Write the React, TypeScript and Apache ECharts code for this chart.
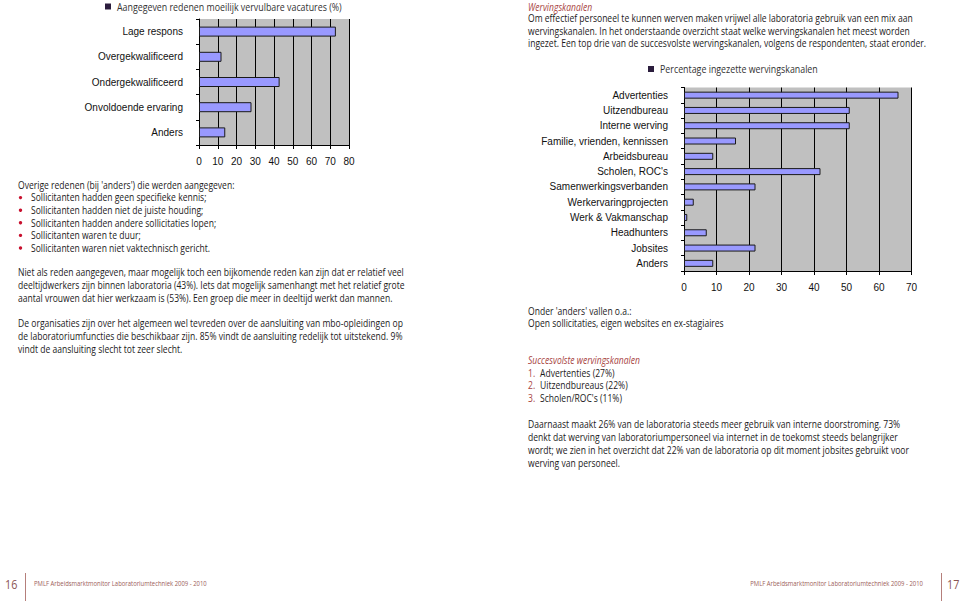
import React, { useEffect, useRef } from "react";
import * as echarts from "echarts";

// ---------- Data ----------
const reasonCategories = [
  "Lage respons",
  "Overgekwalificeerd",
  "Ondergekwalificeerd",
  "Onvoldoende ervaring",
  "Anders",
];
const reasonValues = [73, 12, 43, 28, 14];
const reasonLegend = "Aangegeven redenen moeilijk vervulbare vacatures (%)";

const channelCategories = [
  "Advertenties",
  "Uitzendbureau",
  "Interne werving",
  "Familie, vrienden, kennissen",
  "Arbeidsbureau",
  "Scholen, ROC's",
  "Samenwerkingsverbanden",
  "Werkervaringprojecten",
  "Werk & Vakmanschap",
  "Headhunters",
  "Jobsites",
  "Anders",
];
const channelValues = [66, 51, 51, 16, 9, 42, 22, 3, 1, 7, 22, 9];
const channelLegend = "Percentage ingezette wervingskanalen";

const leftIntro = "Overige redenen (bij 'anders') die werden aangegeven:";
const leftBullets = [
  "Sollicitanten hadden geen specifieke kennis;",
  "Sollicitanten hadden niet de juiste houding;",
  "Sollicitanten hadden andere sollicitaties lopen;",
  "Sollicitanten waren te duur;",
  "Sollicitanten waren niet vaktechnisch gericht.",
];
const leftPara2 = [
  "Niet als reden aangegeven, maar mogelijk toch een bijkomende reden kan zijn dat er relatief veel",
  "deeltijdwerkers zijn binnen laboratoria (43%). Iets dat mogelijk samenhangt met het relatief grote",
  "aantal vrouwen dat hier werkzaam is (53%). Een groep die meer in deeltijd werkt dan mannen.",
];
const leftPara3 = [
  "De organisaties zijn over het algemeen wel tevreden over de aansluiting van mbo-opleidingen op",
  "de laboratoriumfuncties die beschikbaar zijn. 85% vindt de aansluiting redelijk tot uitstekend. 9%",
  "vindt de aansluiting slecht tot zeer slecht.",
];
const rightHeading = "Wervingskanalen";
const rightPara1 = [
  "Om effectief personeel te kunnen werven maken vrijwel alle laboratoria gebruik van een mix aan",
  "wervingskanalen. In het onderstaande overzicht staat welke wervingskanalen het meest worden",
  "ingezet. Een top drie van de succesvolste wervingskanalen, volgens de respondenten, staat eronder.",
];
const rightAnders = [
  "Onder 'anders' vallen o.a.:",
  "Open sollicitaties, eigen websites en ex-stagiaires",
];
const topHeading = "Succesvolste wervingskanalen";
const topNumbers = ["1.", "2.", "3."];
const topItems = ["Advertenties (27%)", "Uitzendbureaus (22%)", "Scholen/ROC's (11%)"];
const rightPara2 = [
  "Daarnaast maakt 26% van de laboratoria steeds meer gebruik van interne doorstroming. 73%",
  "denkt dat werving van laboratoriumpersoneel via internet in de toekomst steeds belangrijker",
  "wordt; we zien in het overzicht dat 22% van de laboratoria op dit moment jobsites gebruikt voor",
  "werving van personeel.",
];
const footerText = "PMLF Arbeidsmarktmonitor Laboratoriumtechniek 2009 - 2010";
const pageLeft = "16";
const pageRight = "17";

// ---------- Styles ----------
const BODY_FONT = "'Open Sans'";
const CHART_FONT = "'Liberation Sans', Arial, sans-serif";
const TEXT = "#1c1a1b";
const ACCENT = "#a8453f";
const BAR = "#9999ff";
const BODY_SIZE = 10.6;

function measure(text: string, size: number, style = "normal") {
  const c = document.createElement("canvas");
  const ctx = c.getContext("2d");
  if (!ctx) return text.length * size * 0.5;
  ctx.font = `${style} ${size}px ${BODY_FONT}`;
  return ctx.measureText(text).width;
}

export default function App() {
  const ref = useRef<HTMLDivElement>(null);

  useEffect(() => {
    if (!ref.current) return;
    const chart = echarts.init(ref.current, null, { renderer: "svg" });

    // horizontal compression to mimic the condensed typeface of the reference
    const bodyScale = Math.min(1, 386 / measure(leftPara2[0], BODY_SIZE));
    const legend1Scale = Math.min(1, 225 / measure(reasonLegend, 11));
    const legend2Scale = Math.min(1, 158 / measure(channelLegend, 10.8));
    const footerScale = Math.min(1, 173 / measure(footerText, 7.2));

    function txt(x: number, y: number, text: string, opts: any = {}) {
      return {
        type: "text",
        x,
        y,
        scaleX: opts.scale ?? bodyScale,
        silent: true,
        style: {
          text,
          fill: opts.fill || TEXT,
          fontSize: opts.fontSize || BODY_SIZE,
          fontFamily: BODY_FONT,
          fontStyle: opts.fontStyle || "normal",
          textAlign: opts.align || "left",
          textVerticalAlign: "middle",
        },
      };
    }
    const lines = (x: number, y0: number, step: number, arr: string[], opts: any = {}) =>
      arr.map((t, i) => txt(x, y0 + i * step, t, opts));

    const axisCommonY = (cats: string[]) => ({
      type: "category",
      data: cats,
      inverse: true,
      axisLine: { show: true, lineStyle: { color: "#000", width: 1 } },
      axisTick: { show: true, length: 3, lineStyle: { color: "#000" } },
      axisLabel: { color: "#111", fontSize: 10, fontFamily: CHART_FONT, margin: 16 },
      splitLine: { show: false },
    });
    const axisCommonX = (max: number) => ({
      type: "value",
      min: 0,
      max,
      interval: 10,
      axisLine: { show: true, lineStyle: { color: "#000", width: 1 } },
      axisTick: { show: true, length: 4, lineStyle: { color: "#000" } },
      axisLabel: { color: "#111", fontSize: 10, fontFamily: CHART_FONT, margin: 11 },
      splitLine: { show: true, lineStyle: { color: "#000", width: 1 } },
    });

    const graphic: any[] = [];
    // legends
    graphic.push({ type: "rect", shape: { x: 105, y: 3.5, width: 6, height: 6 }, style: { fill: "#2b1d3d" }, silent: true });
    graphic.push(txt(117, 7, reasonLegend, { fontSize: 11, fill: "#333", scale: legend1Scale }));
    graphic.push({ type: "rect", shape: { x: 648, y: 66, width: 6, height: 6 }, style: { fill: "#2b1d3d" }, silent: true });
    graphic.push(txt(660, 69, channelLegend, { fontSize: 10.8, fill: "#333", scale: legend2Scale }));

    // left text
    graphic.push(txt(18, 185, leftIntro));
    leftBullets.forEach((b, i) => {
      const y = 197.6 + i * 12.6;
      graphic.push({ type: "circle", shape: { cx: 20.5, cy: y, r: 1.7 }, style: { fill: "#c8102e" }, silent: true });
      graphic.push(txt(31, y, b));
    });
    graphic.push(...lines(18, 272, 13, leftPara2));
    graphic.push(...lines(18, 323.5, 12.8, leftPara3));

    // right text
    graphic.push(txt(528, 7, rightHeading, { fill: ACCENT, fontStyle: "italic" }));
    graphic.push(...lines(528, 18.5, 12.4, rightPara1));
    graphic.push(...lines(528, 311, 12.6, rightAnders));
    graphic.push(txt(528, 360, topHeading, { fill: ACCENT, fontStyle: "italic" }));
    topNumbers.forEach((n, i) => {
      const y = 373 + i * 12.6;
      graphic.push(txt(528, y, n, { fill: ACCENT }));
      graphic.push(txt(540, y, topItems[i]));
    });
    graphic.push(...lines(528, 424, 13, rightPara2));

    // footer
    graphic.push(txt(5, 584, pageLeft, { fontSize: 12, fill: "#8a5552", scale: 0.9 }));
    graphic.push({ type: "line", shape: { x1: 25.5, y1: 573, x2: 25.5, y2: 601 }, style: { stroke: "#b57f7b", lineWidth: 1 }, silent: true });
    graphic.push(txt(34, 583, footerText, { fontSize: 7.2, fill: "#9c5e59", scale: footerScale }));
    graphic.push(txt(923, 583, footerText, { fontSize: 7.2, fill: "#9c5e59", align: "right", scale: footerScale }));
    graphic.push({ type: "line", shape: { x1: 941.5, y1: 573, x2: 941.5, y2: 601 }, style: { stroke: "#b57f7b", lineWidth: 1 }, silent: true });
    graphic.push(txt(947, 584, pageRight, { fontSize: 12, fill: "#8a5552", scale: 0.9 }));

    const option: any = {
      animation: false,
      backgroundColor: "#ffffff",
      grid: [
        { left: 199, top: 19, width: 150, height: 126, show: true, backgroundColor: "#c0c0c0", borderWidth: 0 },
        { left: 684, top: 87.5, width: 227.5, height: 183.5, show: true, backgroundColor: "#c0c0c0", borderWidth: 0 },
      ],
      xAxis: [
        { ...axisCommonX(80), gridIndex: 0 },
        { ...axisCommonX(70), gridIndex: 1 },
      ],
      yAxis: [
        { ...axisCommonY(reasonCategories), gridIndex: 0 },
        { ...axisCommonY(channelCategories), gridIndex: 1 },
      ],
      series: [
        {
          type: "bar",
          xAxisIndex: 0,
          yAxisIndex: 0,
          data: reasonValues,
          barWidth: 10,
          itemStyle: { color: BAR, borderColor: "#1a1a1a", borderWidth: 1 },
        },
        {
          type: "bar",
          xAxisIndex: 1,
          yAxisIndex: 1,
          data: channelValues,
          barWidth: 7,
          itemStyle: { color: BAR, borderColor: "#1a1a1a", borderWidth: 1 },
        },
      ],
      graphic,
    };
    chart.setOption(option);
    return () => chart.dispose();
  }, []);

  return (
    <div
      ref={ref}
      style={{ position: "absolute", left: 0, top: 0, width: 960, height: 601, background: "#fff" }}
    />
  );
}
